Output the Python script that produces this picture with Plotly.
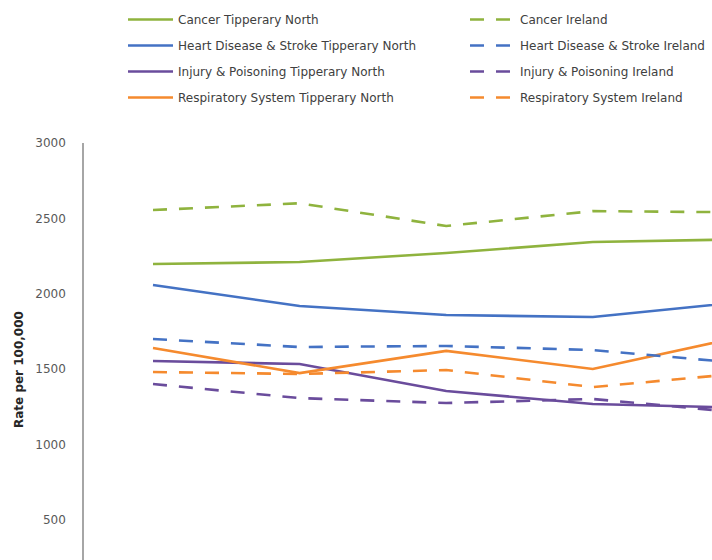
import plotly.graph_objects as go

periods = ["P1", "P2", "P3", "P4", "P5"]

cancer_tn = [2197, 2210, 2270, 2343, 2360]
cancer_ie = [2555, 2600, 2449, 2548, 2540]
heart_tn = [2057, 1918, 1858, 1845, 1943]
heart_ie = [1699, 1646, 1653, 1626, 1540]
injury_tn = [1553, 1533, 1354, 1268, 1243]
injury_ie = [1400, 1307, 1274, 1301, 1212]
resp_tn = [1640, 1473, 1620, 1500, 1711]
resp_ie = [1480, 1467, 1493, 1380, 1470]

y_ticks = [500, 1000, 1500, 2000, 2500, 3000]

GREEN = "#8FB33E"
BLUE = "#4472C4"
PURPLE = "#6A4C9C"
ORANGE = "#F58A2E"
DASH = "14px,12px"

series = [
    ("Cancer Tipperary North", cancer_tn, GREEN, "solid", "legend"),
    ("Heart Disease & Stroke Tipperary North", heart_tn, BLUE, "solid", "legend"),
    ("Injury & Poisoning Tipperary North", injury_tn, PURPLE, "solid", "legend"),
    ("Respiratory System Tipperary North", resp_tn, ORANGE, "solid", "legend"),
    ("Cancer Ireland", cancer_ie, GREEN, DASH, "legend2"),
    ("Heart Disease & Stroke Ireland", heart_ie, BLUE, DASH, "legend2"),
    ("Injury & Poisoning Ireland", injury_ie, PURPLE, DASH, "legend2"),
    ("Respiratory System Ireland", resp_ie, ORANGE, DASH, "legend2"),
]

fig = go.Figure()
for i, (name, vals, col, dash, leg) in enumerate(series):
    fig.add_trace(go.Scatter(
        x=list(range(len(periods))), y=vals, name=name, mode="lines",
        line=dict(color=col, width=2.6, dash=dash),
        legend=leg, legendgroup=f"g{i}",
    ))

# plot area: left 84px, right 712px, top 143px (3000), bottom 560px
L, R, T, B = 84, 712, 143, 560
W, H = 712, 560
px_per_cat = 146.6
x0 = 153
xr = [-(x0 - L) / px_per_cat, (R - x0) / px_per_cat]
units_per_px = 3000 / 452.0
yr = [3000 - (B - T) * units_per_px, 3000]

legend_font = dict(family="DejaVu Sans", size=12, color="#404040")
fig.update_layout(
    width=W, height=H,
    margin=dict(l=L, r=W - R, t=T, b=H - B),
    paper_bgcolor="white", plot_bgcolor="white",
    showlegend=True,
    legend=dict(x=(123 - L) / (R - L), y=1 + (T - 5) / (B - T), xanchor="left", yanchor="top",
                orientation="v", font=legend_font, tracegroupgap=7, itemwidth=45,
                bgcolor="rgba(0,0,0,0)"),
    legend2=dict(x=(465 - L) / (R - L), y=1 + (T - 5) / (B - T), xanchor="left", yanchor="top",
                 orientation="v", font=legend_font, tracegroupgap=7, itemwidth=45,
                 bgcolor="rgba(0,0,0,0)"),
    xaxis=dict(range=xr, visible=False, showgrid=False, zeroline=False),
    yaxis=dict(range=yr, tickvals=y_ticks, ticktext=[str(v) for v in y_ticks],
               showgrid=False, zeroline=False, showline=True, linecolor="#A6A6A6", linewidth=1.5,
               ticks="", ticklabelstandoff=14,
               tickfont=dict(family="DejaVu Sans", size=12, color="#595959")),
    annotations=[dict(text="<b>Rate per 100,000</b>", xref="paper", yref="paper",
                      x=(19 - L) / (R - L), y=(B - 370) / (B - T), textangle=-90,
                      showarrow=False, xanchor="center", yanchor="middle",
                      font=dict(family="DejaVu Sans", size=12, color="#262626"))],
)

fig.write_html("out.html")
